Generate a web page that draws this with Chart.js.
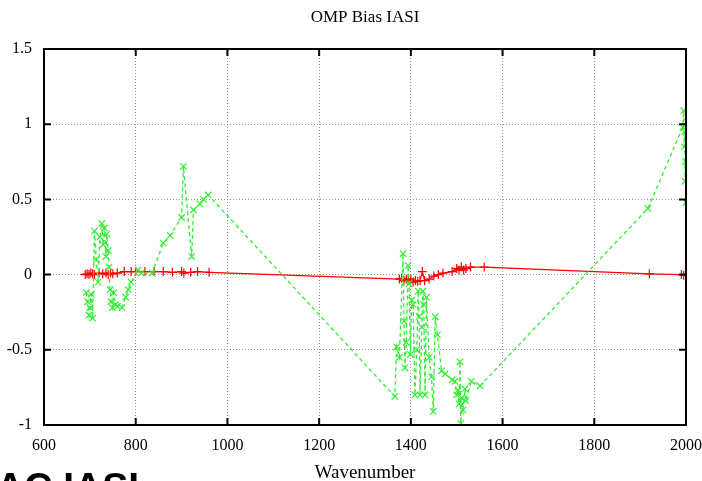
<!DOCTYPE html>
<html>
<head>
<meta charset="utf-8">
<script src="https://cdn.jsdelivr.net/npm/chart.js@4.4.0/dist/chart.umd.min.js"></script>
<style>
  html, body { margin: 0; padding: 0; background: #fff; }
  #wrap { position: relative; width: 702px; height: 481px; overflow: hidden; }
  #slideText {
    position: absolute; left: -4px; top: 467px;
    font: bold 39px "Liberation Sans", Arial, sans-serif; color: #000; line-height: 39px;
  }
</style>
</head>
<body>
<div id="wrap">
  <canvas id="biasChart" width="702" height="481"></canvas>
  <div id="slideText">AC IASI</div>
</div>
<script>
// ===== データ =====
const chartTitle = "OMP Bias IASI";
const xAxisTitle = "Wavenumber";
const xTicks = [600, 800, 1000, 1200, 1400, 1600, 1800, 2000];
const yTicks = [-1, -0.5, 0, 0.5, 1, 1.5];

// 緑 (x マーカー, 破線)
const greenWn = [692, 695, 698, 700, 703, 706, 710, 714, 718, 722, 726, 729, 732, 735, 737, 740,
  742, 744, 746, 749, 752, 756, 760, 770, 778, 784, 790, 805, 812, 836, 860, 875, 900, 904, 922,
  926, 940, 948, 958, 1365, 1369, 1375, 1383, 1385, 1387, 1390, 1394, 1396, 1399, 1402, 1405,
  1409, 1413, 1416, 1418, 1420, 1424, 1426, 1428, 1431, 1434, 1440, 1445, 1449, 1453, 1458,
  1467, 1475, 1490, 1496, 1500, 1503, 1505, 1507, 1509, 1511, 1514, 1518, 1520, 1532, 1551,
  1917, 1993, 1995, 1996, 1997, 1998, 1999, 2000];
const greenBias = [-0.12, -0.18, -0.27, -0.22, -0.13, -0.29, 0.29, 0.10, -0.05, 0.25, 0.34, 0.20,
  0.31, 0.12, 0.27, 0.16, 0.05, -0.10, -0.18, -0.22, -0.12, -0.20, -0.21, -0.22, -0.15, -0.10,
  -0.05, 0.03, 0.01, 0.01, 0.21, 0.26, 0.38, 0.72, 0.12, 0.43, 0.47, 0.50, 0.53, -0.81, -0.48,
  -0.55, 0.14, -0.31, -0.62, -0.45, 0.06, -0.06, -0.53, -0.17, -0.20, -0.80, -0.50, -0.11,
  -0.28, -0.80, -0.35, -0.11, -0.20, -0.80, -0.15, -0.55, -0.68, -0.91, -0.28, -0.40, -0.64,
  -0.66, -0.70, -0.71, -0.80, -0.77, -0.86, -0.58, -0.99, -0.82, -0.90, -0.76, -0.84, -0.71,
  -0.74, 0.44, 0.98, 1.09, 0.85, 0.95, 0.62, 0.75, 0.48];

// 赤 (+ マーカー, 実線)
const redWn = [690, 694, 698, 702, 706, 710, 720, 728, 735, 740, 745, 750, 760, 775, 790, 800,
  820, 840, 860, 880, 900, 905, 920, 935, 960, 1375, 1380, 1385, 1390, 1395, 1400, 1405, 1410,
  1415, 1420, 1425, 1430, 1440, 1450, 1460, 1470, 1490, 1500, 1505, 1510, 1515, 1520, 1530,
  1560, 1920, 1990, 1995, 2000];
const redBias = [0.0, 0.005, 0.0, 0.01, 0.005, 0.0, 0.01, 0.005, 0.01, 0.0, 0.01, 0.005, 0.01,
  0.02, 0.02, 0.02, 0.02, 0.02, 0.02, 0.015, 0.02, 0.01, 0.015, 0.02, 0.015, -0.03, -0.025,
  -0.04, -0.03, -0.04, -0.03, -0.05, -0.04, -0.045, -0.04, 0.02, -0.04, -0.03, -0.01, 0.0,
  0.01, 0.02, 0.04, 0.03, 0.05, 0.03, 0.04, 0.05, 0.05, 0.005, 0.0, -0.005, 0.0];

const toPoints = (xs, ys) => xs.map((x, i) => ({ x, y: ys[i] }));
const serif = "'Liberation Serif', 'Times New Roman', serif";

// ===== 枠・内向き目盛り・タイトル =====
const framePlugin = {
  id: "frame",
  afterDraw(chart) {
    const { ctx, chartArea: a, scales } = chart;
    ctx.save();
    ctx.strokeStyle = "#000";
    ctx.lineWidth = 2;
    ctx.strokeRect(a.left, a.top, a.right - a.left, a.bottom - a.top);
    ctx.beginPath();
    xTicks.forEach(v => {
      const px = scales.x.getPixelForValue(v);
      ctx.moveTo(px, a.bottom); ctx.lineTo(px, a.bottom - 7);
      ctx.moveTo(px, a.top); ctx.lineTo(px, a.top + 7);
    });
    yTicks.forEach(v => {
      const py = scales.y.getPixelForValue(v);
      ctx.moveTo(a.left, py); ctx.lineTo(a.left + 7, py);
      ctx.moveTo(a.right, py); ctx.lineTo(a.right - 7, py);
    });
    ctx.stroke();

    // タイトルはプロット領域の中央に
    ctx.fillStyle = "#000";
    ctx.font = "17px " + serif;
    ctx.textAlign = "center";
    ctx.textBaseline = "middle";
    ctx.fillText(chartTitle, (a.left + a.right) / 2, 18);
    ctx.restore();
  }
};

const ctx = document.getElementById("biasChart").getContext("2d");
new Chart(ctx, {
  type: "scatter",
  data: {
    datasets: [
      {
        data: toPoints(greenWn, greenBias),
        showLine: true,
        borderColor: "#33ee33",
        backgroundColor: "#33ee33",
        borderWidth: 1.3,
        borderDash: [4, 3],
        pointStyle: "crossRot",
        pointRadius: 4.5,
        pointBorderWidth: 1.2
      },
      {
        data: toPoints(redWn, redBias),
        showLine: true,
        borderColor: "#ff0000",
        backgroundColor: "#ff0000",
        borderWidth: 1.2,
        pointStyle: "cross",
        pointRadius: 4.5,
        pointBorderWidth: 1.2
      }
    ]
  },
  options: {
    responsive: false,
    animation: false,
    layout: { padding: { left: 0, right: 16, top: 49, bottom: 0 } },
    plugins: {
      legend: { display: false },
      tooltip: { enabled: false },
      title: { display: false }
    },
    scales: {
      x: {
        type: "linear",
        min: 600,
        max: 2000,
        afterBuildTicks: s => { s.ticks = xTicks.map(v => ({ value: v })); },
        afterFit: s => { s.height = 56; s.paddingRight = 0; s.paddingLeft = 0; },
        ticks: {
          color: "#000",
          font: { family: serif, size: 16 },
          padding: 11,
          maxRotation: 0,
          callback: v => String(v)
        },
        grid: { color: "#999", drawTicks: false, lineWidth: 1 },
        border: { display: false, dash: [1, 2] },
        title: {
          display: true,
          text: xAxisTitle,
          color: "#000",
          font: { family: serif, size: 19 },
          padding: { top: 0, bottom: -3 }
        }
      },
      y: {
        type: "linear",
        min: -1,
        max: 1.5,
        afterBuildTicks: s => { s.ticks = yTicks.map(v => ({ value: v })); },
        afterFit: s => { s.width = 44; s.paddingTop = 0; s.paddingBottom = 0; },
        ticks: {
          color: "#000",
          font: { family: serif, size: 16 },
          padding: 12,
          callback: v => String(v)
        },
        grid: { color: "#999", drawTicks: false, lineWidth: 1 },
        border: { display: false, dash: [1, 2] }
      }
    }
  },
  plugins: [framePlugin]
});
</script>
</body>
</html>
